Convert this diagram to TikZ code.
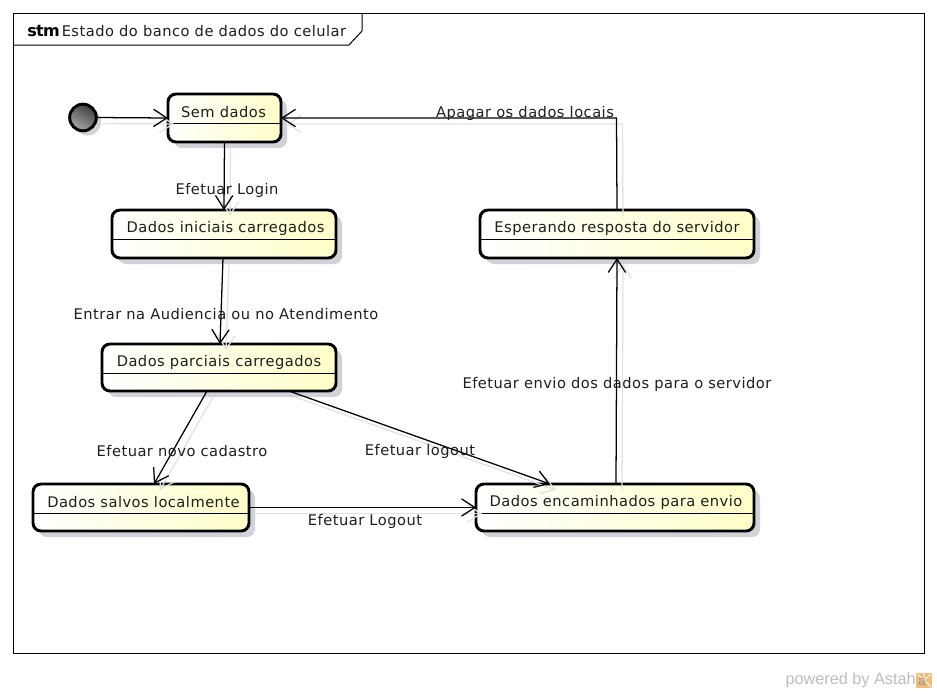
\documentclass[tikz,border=0pt]{standalone}
\usepackage{fontspec}
\setmainfont{DejaVu Sans}
\newfontfamily\astahfont{Liberation Sans}
\newcommand{\labelfont}{\fontsize{11pt}{12pt}\selectfont\addfontfeature{LetterSpace=3.2}}
\usetikzlibrary{arrows.meta,shadows,calc}
\definecolor{shadowgray}{RGB}{208,210,216}
\definecolor{edgegray}{RGB}{226,226,226}
\definecolor{stateyellow}{RGB}{255,255,200}
\definecolor{inkblack}{RGB}{30,30,30}
\definecolor{astahgray}{RGB}{190,190,190}
\definecolor{astahorange}{RGB}{240,190,120}
\definecolor{astahletter}{RGB}{150,150,150}
\tikzset{
  x=0.75pt,y=-0.75pt,
  stateshape/.style 2 args={rectangle,rounded corners=6pt,draw=black,line width=2.2pt,outer sep=0pt,inner sep=0pt,
    minimum width=#1*0.75pt,minimum height=#2*0.75pt,left color=white,right color=stateyellow,
    drop shadow={shadow xshift=4.5pt,shadow yshift=-4.5pt,fill=shadowgray,opacity=1}},
  statetext/.style={text=inkblack,font=\labelfont,inner sep=0pt,yshift=-13.5pt},
  divider/.style={line width=0.75pt,draw=black},
  edgeline/.style={draw=black,line width=0.95pt,-{Straight Barb[length=10pt,width=13pt,line width=0.95pt]}},
  edgeshadow/.style={draw=edgegray,line width=0.95pt,-{Straight Barb[length=10pt,width=13pt,line width=0.95pt]},
    transform canvas={xshift=4.5pt,yshift=-4.5pt}},
  edgelabel/.style={text=inkblack,font=\labelfont,inner sep=0pt},
  framebox/.style={draw=black,line width=0.75pt},
}
\newcommand{\flow}[2]{%
  \draw[edgeshadow] (#1) -- (#2);
  \draw[edgeline] (#1) -- (#2);}
\begin{document}
\begin{tikzpicture}
\useasboundingbox[fill=white] (0,0) rectangle (937,693);
% frame
\draw[framebox] (13.5,13.5) rectangle (924.5,653.5);
\coordinate (tabtop) at (362,13.5);
\coordinate (tabmid) at (362,31);
\coordinate (tabcut) at (349,45);
\coordinate (tabend) at (13.5,45);
\draw[framebox] (tabtop) -- (tabmid) -- (tabcut) -- (tabend);
\node[inner sep=0pt,text=black,anchor=west,font=\fontsize{12pt}{12pt}\selectfont\bfseries] (kind) at (27,30.5) {\addfontfeature{LetterSpace=-4}stm};
\node[inner sep=0pt,text=inkblack,anchor=west,font=\labelfont] (title) at (61.5,31) {Estado do banco de dados do celular};
% states
\node[stateshape={113}{48}] (sem) at (224.5,118) {};
\node[stateshape={224}{48}] (ini) at (224,234) {};
\node[stateshape={234}{47}] (par) at (219,367.5) {};
\node[stateshape={216}{47}] (sal) at (141,507.5) {};
\node[stateshape={278}{47}] (enc) at (615,507.5) {};
\node[stateshape={274}{48}] (esp) at (617,234) {};
\draw[divider] ([yshift=-21.75pt]sem.north west) -- ([yshift=-21.75pt]sem.north east);
\draw[divider] ([yshift=-21.75pt]ini.north west) -- ([yshift=-21.75pt]ini.north east);
\draw[divider] ([yshift=-21.75pt]par.north west) -- ([yshift=-21.75pt]par.north east);
\draw[divider] ([yshift=-21.75pt]sal.north west) -- ([yshift=-21.75pt]sal.north east);
\draw[divider] ([yshift=-21.75pt]enc.north west) -- ([yshift=-21.75pt]enc.north east);
\draw[divider] ([yshift=-21.75pt]esp.north west) -- ([yshift=-21.75pt]esp.north east);
\node[statetext] (semtext) at ([shift={(-1,0)}]sem.north) {Sem dados};
\node[statetext] (initext) at ([shift={(1.5,0)}]ini.north) {Dados iniciais carregados};
\node[statetext] (partext) at (par.north) {Dados parciais carregados};
\node[statetext] (saltext) at ([shift={(2.5,0)}]sal.north) {Dados salvos localmente};
\node[statetext] (enctext) at ([shift={(1,0)}]enc.north) {Dados encaminhados para envio};
\node[statetext] (esptext) at (esp.north) {Esperando resposta do servidor};
% initial pseudostate
\node[circle,minimum size=20pt,inner sep=0pt,outer sep=0pt,draw=black,line width=2.2pt,
  top color=black!75,bottom color=black!35,shading angle=-30,
  drop shadow={shadow xshift=3.5pt,shadow yshift=-3.5pt,fill=shadowgray,opacity=1}] (start) at (83,117.5) {};
% connectors
\flow{start.east}{sem.west}
\flow{sem.south}{ini.north}
\flow{[shift={(-1,0)}]ini.south}{[shift={(1,0)}]par.north}
\flow{[shift={(-12,0)}]par.south}{[shift={(13,0)}]sal.north}
\flow{[shift={(70,0)}]par.south}{[shift={(-65,0)}]enc.north}
\flow{sal.east}{enc.west}
\flow{[shift={(1,0)}]enc.north}{esp.south}
\coordinate (bend) at (616.5,118);
\draw[edgeshadow] (esp.north) -- (bend) -- (sem.east);
\draw[edgeline] (esp.north) -- (bend) -- (sem.east);
% labels
\node[edgelabel] (l1) at (227,190) {Efetuar Login};
\node[edgelabel] (l2) at (226,314) {Entrar na Audiencia ou no Atendimento};
\node[edgelabel] (l3) at (182,451) {Efetuar novo cadastro};
\node[edgelabel] (l4) at (420,451) {Efetuar logout};
\node[edgelabel] (l5) at (365,521) {Efetuar Logout};
\node[edgelabel] (l6) at (525,113) {Apagar os dados locais};
\node[edgelabel] (l7) at (617,384) {Efetuar envio dos dados para o servidor};
% footer
\node[inner sep=0pt,anchor=east,text=astahgray,font=\astahfont\fontsize{12.2pt}{12pt}\selectfont] (powered) at (916,680) {powered by Astah};
\fill[astahorange] (916,673) rectangle (932,688);
\draw[white,line width=0.6pt] (924,680) -- (917,674) (924,680) -- (924,673) (924,680) -- (931,674) (924,680) -- (931,687);
\node[inner sep=0pt,text=astahletter,font=\astahfont\fontsize{10pt}{10pt}\selectfont] (logo) at (922,682) {a};
\end{tikzpicture}
\end{document}
